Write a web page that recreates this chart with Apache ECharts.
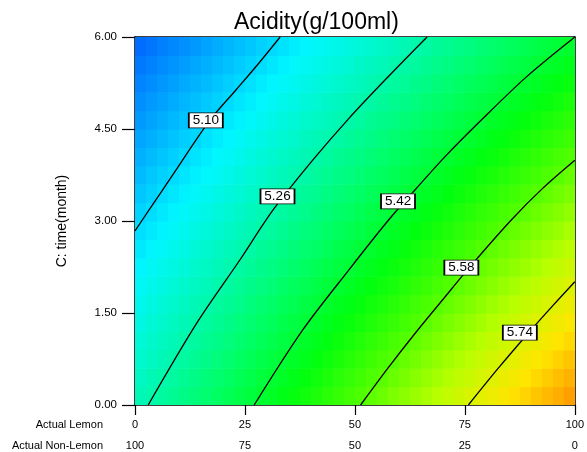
<!DOCTYPE html>
<html>
<head>
<meta charset="utf-8">
<script src="https://cdn.jsdelivr.net/npm/echarts@6/dist/echarts.min.js"></script>
<style>
html,body{margin:0;padding:0;background:#fff;}
#chart{width:587px;height:452px;}
</style>
</head>
<body>
<div id="chart"></div>
<script>
// ---- Data ----
const lemonTicks = [0, 25, 50, 75, 100];
const timeTicks = [0, 1.5, 3, 4.5, 6];
// cell centres of the response surface
const lemonCenters = [1.25,3.75,6.25,8.75,11.25,13.75,16.25,18.75,21.25,23.75,26.25,28.75,31.25,33.75,36.25,38.75,41.25,43.75,46.25,48.75,51.25,53.75,56.25,58.75,61.25,63.75,66.25,68.75,71.25,73.75,76.25,78.75,81.25,83.75,86.25,88.75,91.25,93.75,96.25,98.75];
const timeCenters = [0.15,0.45,0.75,1.05,1.35,1.65,1.95,2.25,2.55,2.85,3.15,3.45,3.75,4.05,4.35,4.65,4.95,5.25,5.55,5.85];
// acidity estimates per time row (left to right along Actual Lemon)
const acidT015 = [5.241,5.257,5.273,5.290,5.306,5.323,5.339,5.355,5.372,5.388,5.405,5.421,5.437,5.454,5.470,5.487,5.503,5.519,5.536,5.552,5.568,5.585,5.601,5.618,5.634,5.650,5.667,5.683,5.700,5.716,5.732,5.749,5.765,5.781,5.798,5.814,5.831,5.847,5.863,5.880];
const acidT045 = [5.226,5.242,5.258,5.274,5.290,5.306,5.323,5.339,5.355,5.371,5.387,5.403,5.420,5.436,5.452,5.468,5.484,5.500,5.517,5.533,5.549,5.565,5.581,5.597,5.613,5.630,5.646,5.662,5.678,5.694,5.710,5.727,5.743,5.759,5.775,5.791,5.807,5.824,5.840,5.856];
const acidT075 = [5.210,5.226,5.242,5.258,5.274,5.290,5.306,5.322,5.338,5.354,5.370,5.386,5.402,5.418,5.434,5.450,5.465,5.481,5.497,5.513,5.529,5.545,5.561,5.577,5.593,5.609,5.625,5.641,5.657,5.673,5.689,5.705,5.720,5.736,5.752,5.768,5.784,5.800,5.816,5.832];
const acidT105 = [5.195,5.211,5.227,5.242,5.258,5.274,5.290,5.305,5.321,5.337,5.352,5.368,5.384,5.400,5.415,5.431,5.447,5.462,5.478,5.494,5.510,5.525,5.541,5.557,5.572,5.588,5.604,5.620,5.635,5.651,5.667,5.682,5.698,5.714,5.730,5.745,5.761,5.777,5.792,5.808];
const acidT135 = [5.180,5.196,5.211,5.227,5.242,5.258,5.273,5.289,5.304,5.320,5.335,5.351,5.366,5.382,5.397,5.413,5.428,5.444,5.459,5.475,5.490,5.505,5.521,5.536,5.552,5.567,5.583,5.598,5.614,5.629,5.645,5.660,5.676,5.691,5.707,5.722,5.738,5.753,5.769,5.784];
const acidT165 = [5.165,5.180,5.196,5.211,5.226,5.241,5.257,5.272,5.287,5.302,5.318,5.333,5.348,5.364,5.379,5.394,5.409,5.425,5.440,5.455,5.470,5.486,5.501,5.516,5.531,5.547,5.562,5.577,5.592,5.608,5.623,5.638,5.654,5.669,5.684,5.699,5.715,5.730,5.745,5.760];
const acidT195 = [5.150,5.165,5.180,5.195,5.210,5.225,5.240,5.255,5.270,5.285,5.300,5.315,5.330,5.346,5.361,5.376,5.391,5.406,5.421,5.436,5.451,5.466,5.481,5.496,5.511,5.526,5.541,5.556,5.571,5.586,5.601,5.616,5.631,5.646,5.661,5.676,5.691,5.706,5.721,5.736];
const acidT225 = [5.135,5.150,5.165,5.179,5.194,5.209,5.224,5.239,5.253,5.268,5.283,5.298,5.313,5.327,5.342,5.357,5.372,5.387,5.402,5.416,5.431,5.446,5.461,5.476,5.490,5.505,5.520,5.535,5.550,5.564,5.579,5.594,5.609,5.624,5.639,5.653,5.668,5.683,5.698,5.713];
const acidT255 = [5.120,5.134,5.149,5.164,5.178,5.193,5.207,5.222,5.236,5.251,5.266,5.280,5.295,5.309,5.324,5.339,5.353,5.368,5.382,5.397,5.412,5.426,5.441,5.455,5.470,5.484,5.499,5.514,5.528,5.543,5.557,5.572,5.587,5.601,5.616,5.630,5.645,5.660,5.674,5.689];
const acidT285 = [5.105,5.119,5.133,5.148,5.162,5.176,5.191,5.205,5.220,5.234,5.248,5.263,5.277,5.291,5.306,5.320,5.334,5.349,5.363,5.378,5.392,5.406,5.421,5.435,5.449,5.464,5.478,5.492,5.507,5.521,5.536,5.550,5.564,5.579,5.593,5.607,5.622,5.636,5.650,5.665];
const acidT315 = [5.090,5.104,5.118,5.132,5.146,5.160,5.174,5.189,5.203,5.217,5.231,5.245,5.259,5.273,5.287,5.302,5.316,5.330,5.344,5.358,5.372,5.386,5.401,5.415,5.429,5.443,5.457,5.471,5.485,5.500,5.514,5.528,5.542,5.556,5.570,5.584,5.599,5.613,5.627,5.641];
const acidT345 = [5.074,5.088,5.102,5.116,5.130,5.144,5.158,5.172,5.186,5.200,5.214,5.227,5.241,5.255,5.269,5.283,5.297,5.311,5.325,5.339,5.353,5.367,5.381,5.394,5.408,5.422,5.436,5.450,5.464,5.478,5.492,5.506,5.520,5.534,5.547,5.561,5.575,5.589,5.603,5.617];
const acidT375 = [5.059,5.073,5.087,5.100,5.114,5.128,5.141,5.155,5.169,5.183,5.196,5.210,5.224,5.237,5.251,5.265,5.278,5.292,5.306,5.319,5.333,5.347,5.360,5.374,5.388,5.402,5.415,5.429,5.443,5.456,5.470,5.484,5.497,5.511,5.525,5.538,5.552,5.566,5.579,5.593];
const acidT405 = [5.044,5.058,5.071,5.085,5.098,5.112,5.125,5.138,5.152,5.165,5.179,5.192,5.206,5.219,5.233,5.246,5.260,5.273,5.287,5.300,5.313,5.327,5.340,5.354,5.367,5.381,5.394,5.408,5.421,5.435,5.448,5.462,5.475,5.488,5.502,5.515,5.529,5.542,5.556,5.569];
const acidT435 = [5.029,5.042,5.056,5.069,5.082,5.095,5.109,5.122,5.135,5.148,5.161,5.175,5.188,5.201,5.214,5.228,5.241,5.254,5.267,5.281,5.294,5.307,5.320,5.334,5.347,5.360,5.373,5.387,5.400,5.413,5.426,5.439,5.453,5.466,5.479,5.492,5.506,5.519,5.532,5.545];
const acidT465 = [5.014,5.027,5.040,5.053,5.066,5.079,5.092,5.105,5.118,5.131,5.144,5.157,5.170,5.183,5.196,5.209,5.222,5.235,5.248,5.261,5.274,5.287,5.300,5.313,5.326,5.339,5.352,5.365,5.378,5.391,5.404,5.417,5.430,5.443,5.456,5.469,5.482,5.495,5.508,5.521];
const acidT495 = [4.999,5.012,5.024,5.037,5.050,5.063,5.076,5.088,5.101,5.114,5.127,5.140,5.152,5.165,5.178,5.191,5.203,5.216,5.229,5.242,5.255,5.267,5.280,5.293,5.306,5.319,5.331,5.344,5.357,5.370,5.383,5.395,5.408,5.421,5.434,5.446,5.459,5.472,5.485,5.498];
const acidT525 = [4.984,4.996,5.009,5.021,5.034,5.047,5.059,5.072,5.084,5.097,5.109,5.122,5.135,5.147,5.160,5.172,5.185,5.197,5.210,5.222,5.235,5.248,5.260,5.273,5.285,5.298,5.310,5.323,5.336,5.348,5.361,5.373,5.386,5.398,5.411,5.423,5.436,5.449,5.461,5.474];
const acidT555 = [4.969,4.981,4.993,5.006,5.018,5.030,5.043,5.055,5.067,5.080,5.092,5.104,5.117,5.129,5.141,5.154,5.166,5.178,5.191,5.203,5.215,5.228,5.240,5.252,5.265,5.277,5.289,5.302,5.314,5.326,5.339,5.351,5.363,5.376,5.388,5.400,5.413,5.425,5.437,5.450];
const acidT585 = [4.954,4.966,4.978,4.990,5.002,5.014,5.026,5.038,5.050,5.063,5.075,5.087,5.099,5.111,5.123,5.135,5.147,5.159,5.172,5.184,5.196,5.208,5.220,5.232,5.244,5.256,5.268,5.281,5.293,5.305,5.317,5.329,5.341,5.353,5.365,5.377,5.390,5.402,5.414,5.426];
const acidityRows = [acidT015, acidT045, acidT075, acidT105, acidT135, acidT165, acidT195, acidT225, acidT255, acidT285, acidT315, acidT345, acidT375, acidT405, acidT435, acidT465, acidT495, acidT525, acidT555, acidT585];

// contour lines [Actual Lemon, time]
const contour510 = [[0,2.84],[3.2,3.18],[8,3.69],[17,4.64],[23,5.14],[28,5.56],[33,6.0]];
const contour526 = [[3.0,0],[14.0,1.33],[23.8,2.36],[31.4,3.18],[40.5,4.0],[48.6,4.67],[57,5.31],[66.4,6.0]];
const contour542 = [[27.1,0],[38.1,1.22],[48.6,2.2],[57.7,3.02],[63.7,3.51],[70.5,4.05],[78.8,4.65],[89,5.35],[100,6.0]];
const contour558 = [[51.3,0],[57.5,0.6],[63.7,1.17],[70,1.72],[76,2.24],[85.6,3.02],[92.5,3.52],[100,3.99]];
const contour574 = [[75.8,0],[82.6,0.6],[89.4,1.17],[95,1.62],[100,2.01]];
const contourLevels = ['5.10', '5.26', '5.42', '5.58', '5.74'];
const contourLabelAt = [[16.1,4.64],[32.4,3.40],[59.8,3.32],[74.2,2.24],[87.5,1.18]];

// ---- Build chart ----
const cells = [];
timeCenters.forEach((t, i) => {
  acidityRows[i].forEach((v, j) => cells.push([lemonCenters[j], t, v]));
});
const cellW = lemonCenters[1] - lemonCenters[0];
const cellH = timeCenters[1] - timeCenters[0];

const FONT = "'Liberation Sans', Arial, sans-serif";
const chart = echarts.init(document.getElementById('chart'), null, {renderer: 'canvas'});

const contourSeries = [contour510, contour526, contour542, contour558, contour574].map(c => ({
  type: 'line', data: c, xAxisIndex: 0, yAxisIndex: 0,
  smooth: 0.3, symbol: 'none', silent: true, z: 5, clip: true,
  lineStyle: {color: '#000', width: 1.3}
}));

chart.setOption({
  animation: false,
  backgroundColor: '#fff',
  textStyle: {fontFamily: FONT},
  title: {
    text: 'Acidity(g/100ml)', left: 229, top: 6,
    textStyle: {fontFamily: FONT, fontSize: 23, fontWeight: 'normal', color: '#000'}
  },
  grid: {left: 135, right: 10, top: 37, bottom: 47, containLabel: false},
  visualMap: {
    type: 'continuous', show: false, seriesIndex: 0, dimension: 2,
    min: 4.81, max: 5.90,
    inRange: {color: ['#0000ff','#0053ff','#00a5ff','#00f7ff','#00f8b4','#00ff62','#00ff0f','#52ff00','#b7ff00','#ffe600','#ff9000']}
  },
  xAxis: [
    {
      type: 'value', min: 0, max: 100, interval: 25, position: 'bottom',
      axisLine: {show: true, onZero: false, lineStyle: {color: '#000', width: 1.5}},
      axisTick: {show: true, length: 10, lineStyle: {color: '#000', width: 1.2}},
      axisLabel: {color: '#000', fontSize: 11, margin: 14, fontFamily: FONT},
      splitLine: {show: false}
    },
    {
      type: 'value', min: 0, max: 100, interval: 25, position: 'bottom', inverse: true, offset: 21,
      axisLine: {show: false}, axisTick: {show: false},
      axisLabel: {color: '#000', fontSize: 11, margin: 14, fontFamily: FONT},
      splitLine: {show: false}
    },
    {
      type: 'value', min: 0, max: 100, position: 'top',
      axisLine: {show: true, onZero: false, lineStyle: {color: '#000', width: 1.5}},
      axisTick: {show: false}, axisLabel: {show: false}, splitLine: {show: false}
    }
  ],
  yAxis: [
    {
      type: 'value', min: 0, max: 6, interval: 1.5, position: 'left',
      name: 'C: time(month)', nameLocation: 'middle', nameGap: 66, nameRotate: 90,
      nameTextStyle: {color: '#000', fontSize: 14, fontFamily: FONT},
      axisLine: {show: true, onZero: false, lineStyle: {color: '#000', width: 1.5}},
      axisTick: {show: true, length: 13, lineStyle: {color: '#000', width: 1.2}},
      axisLabel: {color: '#000', fontSize: 11.5, margin: 18, fontFamily: FONT, formatter: v => v.toFixed(2)},
      splitLine: {show: false}
    },
    {
      type: 'value', min: 0, max: 6, position: 'right',
      axisLine: {show: true, onZero: false, lineStyle: {color: '#000', width: 1.5}},
      axisTick: {show: false}, axisLabel: {show: false}, splitLine: {show: false}
    }
  ],
  graphic: [
    {type: 'text', right: 587 - 103, top: 419, style: {text: 'Actual Lemon', fontSize: 11, fontFamily: FONT, fill: '#000'}},
    {type: 'text', right: 587 - 103, top: 440, style: {text: 'Actual Non-Lemon', fontSize: 11, fontFamily: FONT, fill: '#000'}}
  ],
  series: [
    {
      type: 'custom', data: cells, xAxisIndex: 0, yAxisIndex: 0, clip: true, silent: true, z: 1,
      encode: {x: 0, y: 1},
      renderItem: function (params, api) {
        const x = api.value(0), y = api.value(1);
        const p0 = api.coord([x - cellW / 2, y + cellH / 2]);
        const p1 = api.coord([x + cellW / 2, y - cellH / 2]);
        return {
          type: 'rect',
          shape: {x: p0[0], y: p0[1], width: p1[0] - p0[0] + 0.6, height: p1[1] - p0[1] + 0.6},
          style: {fill: api.visual('color')}
        };
      }
    },
    ...contourSeries,
    {
      type: 'scatter', xAxisIndex: 0, yAxisIndex: 0, silent: true, z: 10,
      data: contourLabelAt.map((p, i) => [p[0], p[1], contourLevels[i]]),
      symbol: 'rect', symbolSize: [34, 15],
      itemStyle: {color: '#fff', borderColor: '#000', borderWidth: 1.2, opacity: 1},
      label: {show: true, position: 'inside', formatter: p => p.value[2], color: '#000', fontSize: 13.5, fontFamily: FONT}
    }
  ]
});
</script>
</body>
</html>
